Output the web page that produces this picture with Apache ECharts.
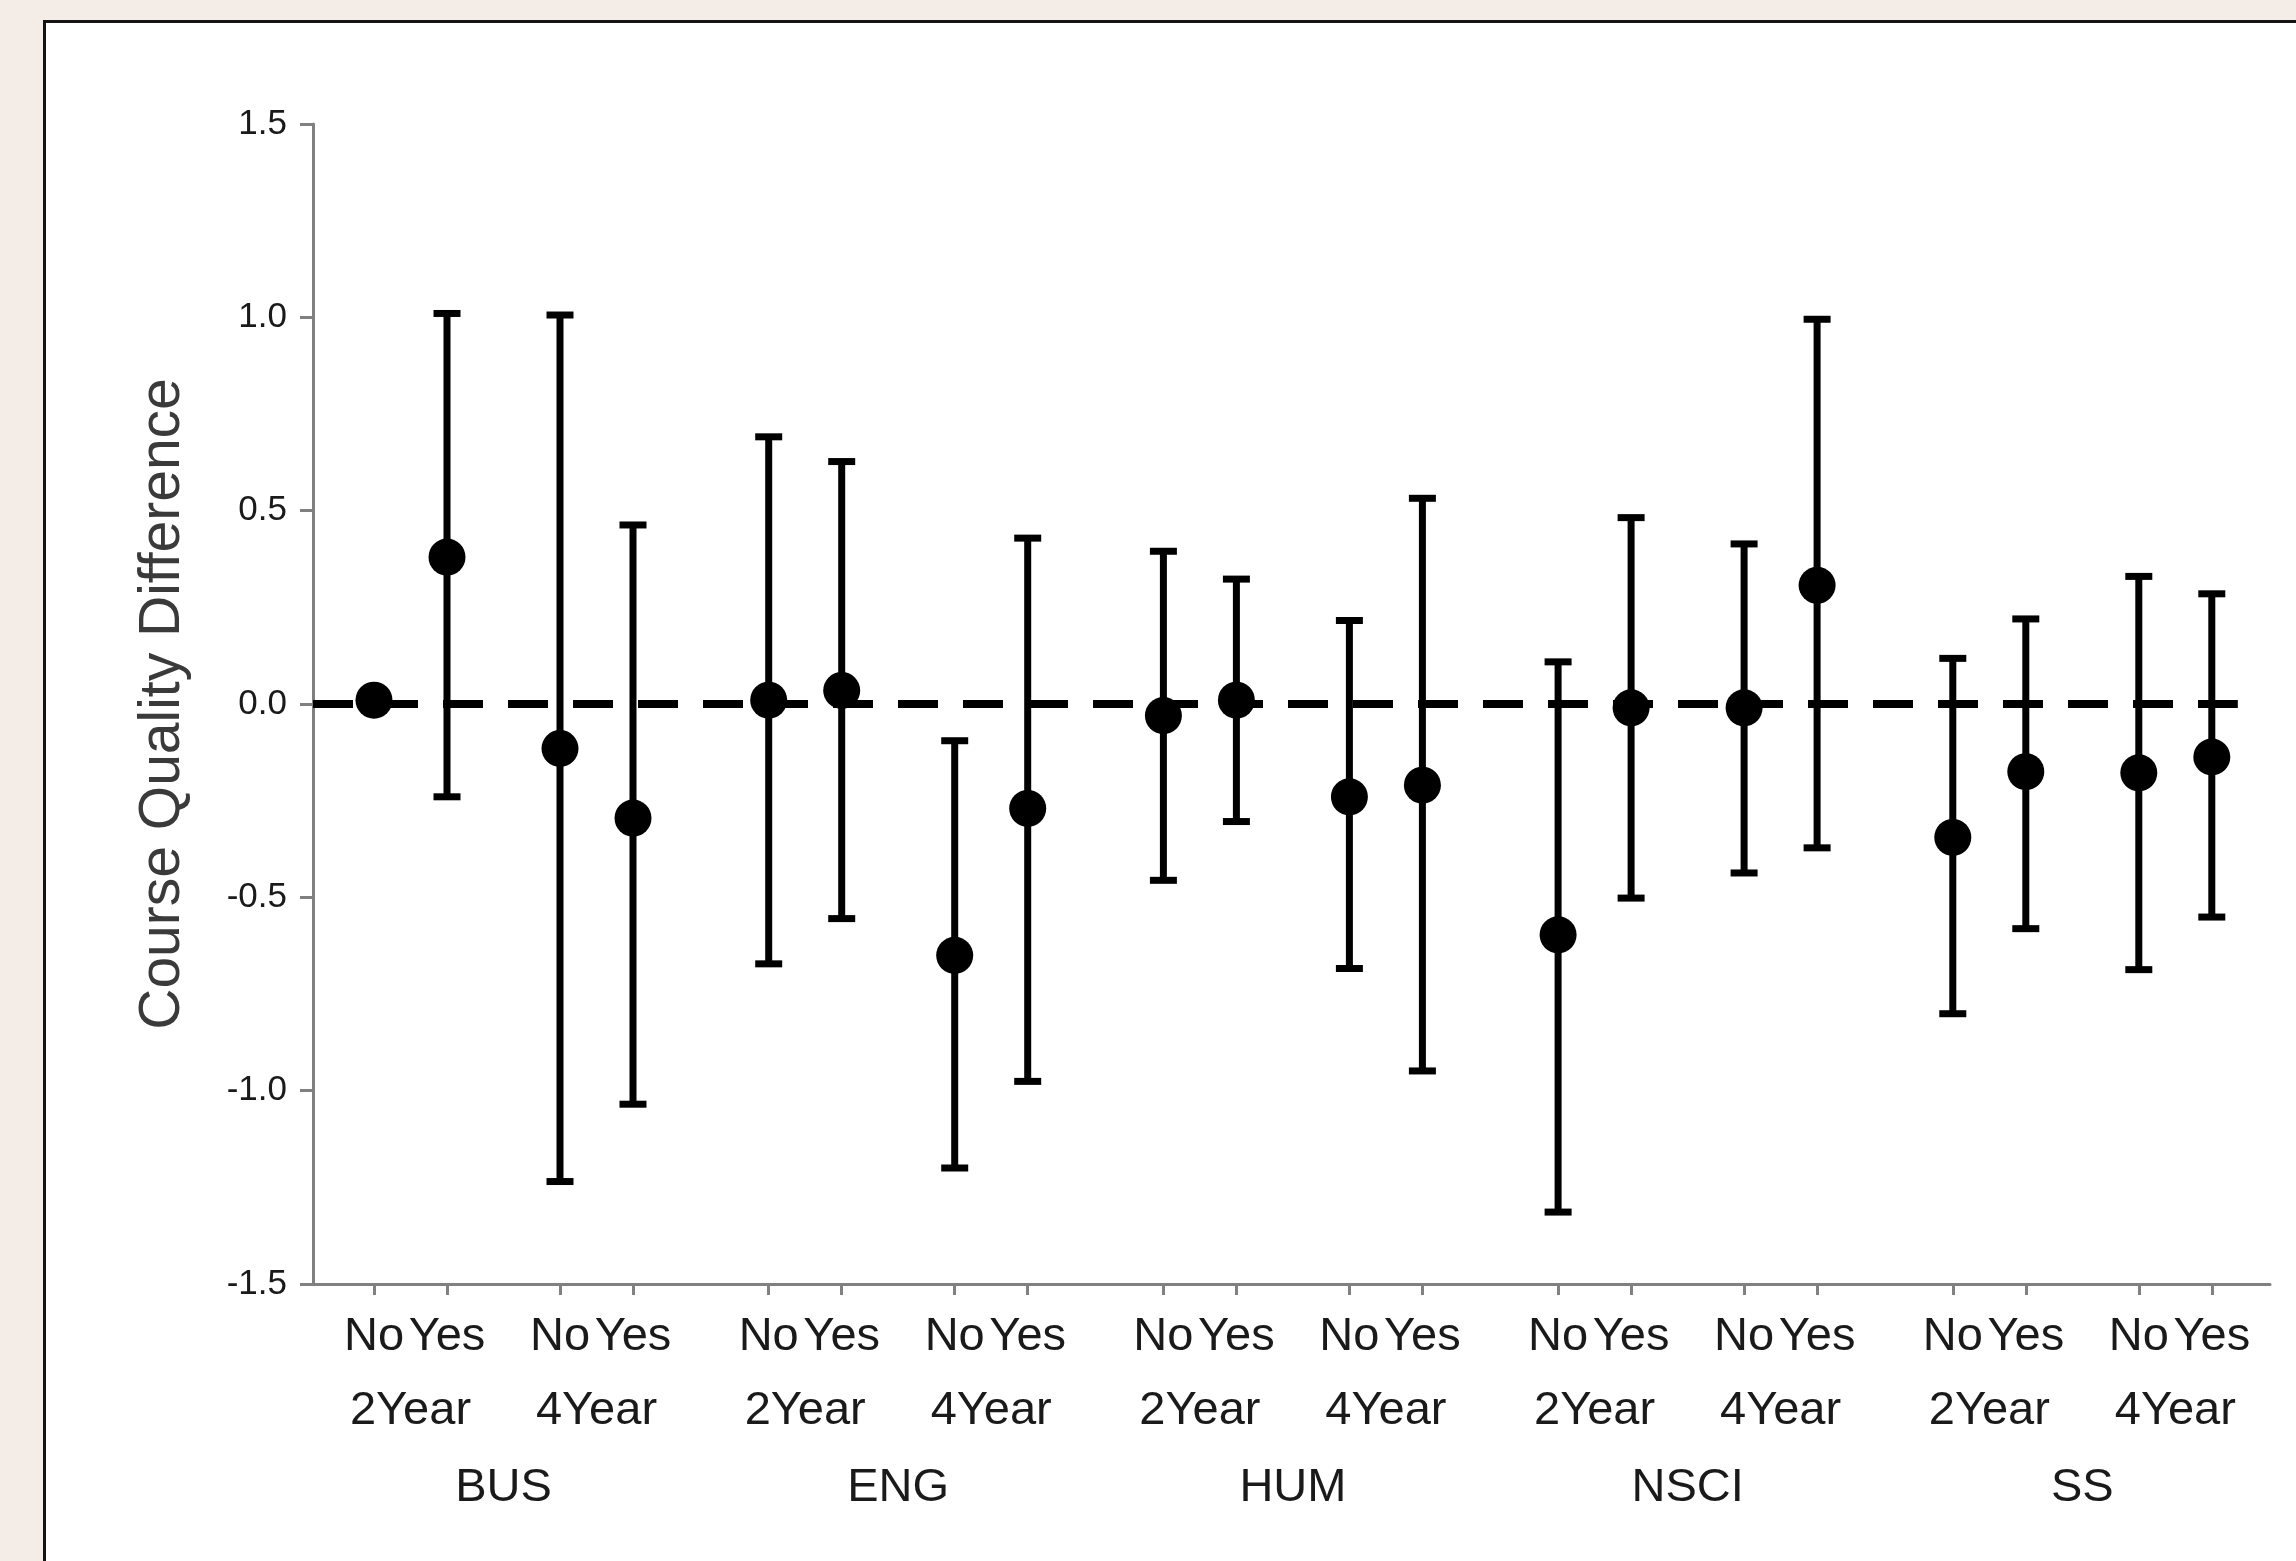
<!DOCTYPE html>
<html>
<head>
<meta charset="utf-8">
<script src="https://cdn.jsdelivr.net/npm/echarts@6/dist/echarts.min.js"></script>
<style>
  html, body { margin: 0; padding: 0; width: 2296px; height: 1561px; background: #f4ede7; overflow: hidden; }
  #panel { position: absolute; left: 43px; top: 20px; width: 2300px; height: 1600px; background: #ffffff;
           border-left: 3px solid #141414; border-top: 3px solid #141414; box-sizing: border-box; }
  #chart { position: absolute; left: 0; top: 0; width: 2296px; height: 1561px; }
</style>
</head>
<body>
<div id="panel"></div>
<div id="chart"></div>
<script>
// ---- data (order: group -> year -> answer) ----
const groups  = ['BUS', 'ENG', 'HUM', 'NSCI', 'SS'];
const years   = ['2Year', '4Year'];
const answers = ['No', 'Yes'];
const means = [
   0.010,  0.380, -0.115, -0.295,   // BUS
   0.010,  0.035, -0.650, -0.270,   // ENG
  -0.030,  0.010, -0.240, -0.210,   // HUM
  -0.597, -0.010, -0.010,  0.307,   // NSCI
  -0.345, -0.175, -0.178, -0.137    // SS
];
const lower = [
   null,  -0.240, -1.235, -1.035,
  -0.672, -0.555, -1.200, -0.976,
  -0.456, -0.304, -0.684, -0.949,
  -1.314, -0.502, -0.437, -0.372,
  -0.801, -0.581, -0.687, -0.551
];
const upper = [
   null,   1.010,  1.006,  0.463,
   0.691,  0.627, -0.095,  0.429,
   0.395,  0.323,  0.216,  0.532,
   0.109,  0.482,  0.414,  0.995,
   0.118,  0.220,  0.330,  0.285
];
const yTicks = [-1.5, -1.0, -0.5, 0.0, 0.5, 1.0, 1.5];
const yTitle = 'Course Quality Difference';

// ---- layout (horizontal slot positions in axis units) ----
const PAD = 61, GROUP_STEP = 394.7, YEAR_STEP = 186, ANS_STEP = 73;
const X_MAX = 1957;
const pos = [], posLabel = {}, yearPos = [], yearLabel = {}, groupPos = [], groupLabel = {};
groups.forEach((g, gi) => {
  years.forEach((y, yi) => {
    answers.forEach((a, ai) => {
      const p = PAD + gi * GROUP_STEP + yi * YEAR_STEP + ai * ANS_STEP;
      pos.push(p); posLabel[p.toFixed(3)] = a;
    });
    const ym = PAD + gi * GROUP_STEP + yi * YEAR_STEP + ANS_STEP / 2;
    yearPos.push(ym); yearLabel[ym.toFixed(3)] = y;
  });
  const gm = PAD + gi * GROUP_STEP + (YEAR_STEP + ANS_STEP) / 2;
  groupPos.push(gm); groupLabel[gm.toFixed(3)] = g;
});
const dashEnd = pos[pos.length - 1] + 26;

const FONT = "'Liberation Sans', Arial, sans-serif";
const barData = pos.map((p, i) => [p, lower[i], upper[i]]);
const ptData = pos.map((p, i) => [p, means[i]]);

const chart = echarts.init(document.getElementById('chart'), null, { renderer: 'canvas' });
const baseX = { type: 'value', min: 0, max: X_MAX, gridIndex: 0, position: 'bottom',
                splitLine: { show: false } };
chart.setOption({
  animation: false,
  backgroundColor: 'transparent',
  grid: { left: 313, top: 124, width: 1957, height: 1160, outerBoundsMode: 'none', containLabel: false },
  xAxis: [
    Object.assign({}, baseX, {
      axisLine: { show: true, onZero: false, lineStyle: { color: '#808080', width: 3 } },
      axisTick: { show: true, customValues: pos, length: 11, lineStyle: { color: '#808080', width: 3 } },
      axisLabel: { show: true, customValues: pos, margin: 30, fontSize: 47, fontFamily: FONT, color: '#1a1a1a',
                   lineHeight: 47, formatter: v => posLabel[Number(v).toFixed(3)] || '' }
    }),
    Object.assign({}, baseX, {
      axisLine: { show: false, onZero: false }, axisTick: { show: false },
      axisLabel: { show: true, customValues: yearPos, margin: 104, fontSize: 47, fontFamily: FONT, color: '#1a1a1a',
                   lineHeight: 47, formatter: v => yearLabel[Number(v).toFixed(3)] || '' }
    }),
    Object.assign({}, baseX, {
      axisLine: { show: false, onZero: false }, axisTick: { show: false },
      axisLabel: { show: true, customValues: groupPos, margin: 181, fontSize: 47, fontFamily: FONT, color: '#1a1a1a',
                   lineHeight: 47, formatter: v => groupLabel[Number(v).toFixed(3)] || '' }
    })
  ],
  yAxis: {
    type: 'value', min: yTicks[0], max: yTicks[yTicks.length - 1], interval: 0.5,
    splitLine: { show: false },
    axisLine: { show: true, onZero: false, lineStyle: { color: '#808080', width: 3 } },
    axisTick: { show: true, length: 13, lineStyle: { color: '#808080', width: 3 } },
    axisLabel: { margin: 26, fontSize: 35, fontFamily: FONT, color: '#1a1a1a', formatter: v => Number(v).toFixed(1) },
    name: yTitle, nameLocation: 'middle', nameRotate: 90, nameGap: 121,
    nameTextStyle: { fontSize: 57, lineHeight: 57, fontFamily: FONT, color: '#3a3a3a' }
  },
  series: [
    {
      type: 'custom',
      xAxisIndex: 0,
      data: barData,
      z: 2,
      renderItem: function (params, api) {
        const lo = api.value(1), hi = api.value(2);
        if (lo == null || hi == null || isNaN(lo) || isNaN(hi)) return;
        const a = api.coord([api.value(0), hi]);
        const b = api.coord([api.value(0), lo]);
        const cw = 13.5;
        const st = { stroke: '#000', lineWidth: 7 };
        return {
          type: 'group',
          children: [
            { type: 'line', shape: { x1: a[0], y1: a[1], x2: b[0], y2: b[1] }, style: st },
            { type: 'line', shape: { x1: a[0] - cw, y1: a[1], x2: a[0] + cw, y2: a[1] }, style: st },
            { type: 'line', shape: { x1: b[0] - cw, y1: b[1], x2: b[0] + cw, y2: b[1] }, style: st }
          ]
        };
      }
    },
    {
      type: 'scatter',
      xAxisIndex: 0,
      data: ptData,
      symbol: 'circle',
      symbolSize: 37,
      z: 3,
      itemStyle: { color: '#000', opacity: 1 },
      markLine: {
        silent: true,
        symbol: ['none', 'none'],
        label: { show: false },
        lineStyle: { color: '#000', width: 8, type: [40, 25] },
        data: [[{ coord: [0, 0] }, { coord: [dashEnd, 0] }]]
      }
    }
  ]
});
</script>
</body>
</html>
